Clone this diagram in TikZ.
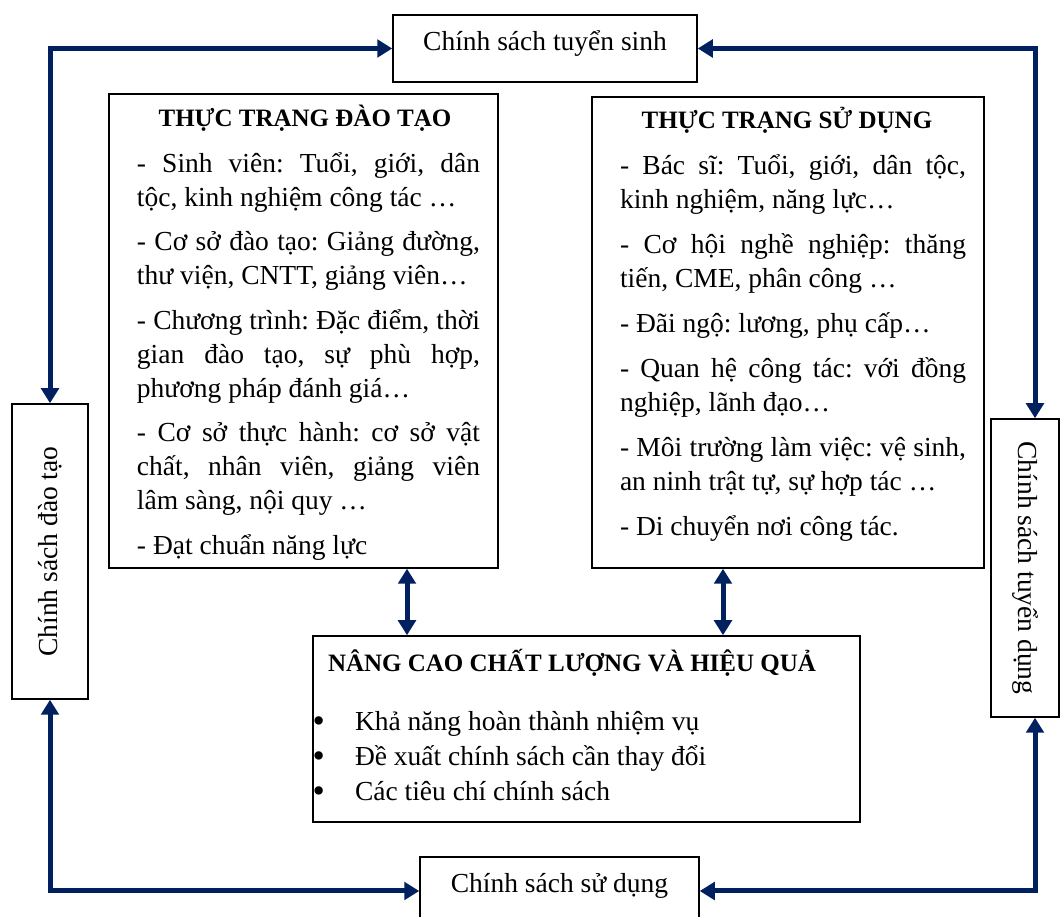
\documentclass[tikz,border=0pt]{standalone}
\usepackage{fontspec}
\setmainfont{Liberation Serif}
\usepackage{graphicx}
\usetikzlibrary{arrows.meta}
\definecolor{navy}{RGB}{0,32,96}
\hyphenpenalty=10000
\exhyphenpenalty=10000
\tolerance=9999
\frenchspacing
\newcommand{\bulletmark}{\makebox[17pt][l]{\raisebox{-0.6pt}{\fontsize{14pt}{13.6pt}\selectfont\textbullet}}}
\tikzset{
  every node/.style={font=\fontsize{11pt}{13.6pt}\selectfont},
  title/.style={font=\fontsize{10pt}{12pt}\selectfont\bfseries},
  box/.style={draw, line width=0.6pt, inner sep=0pt},
  body/.style={anchor=north, inner sep=0pt, align=justify},
  link/.style={navy, line width=2pt,
    {Triangle[length=6pt,width=7pt]}-{Triangle[length=6pt,width=7pt]}},
}
\begin{document}
\begin{tikzpicture}[x=0.4pt,y=-0.4pt]
  \useasboundingbox (0,0) rectangle (1061,917);
  % policy boxes around the frame
  \node[box, minimum width=121.6pt, minimum height=26.8pt, text depth=6.5pt]
    (tsinh) at (545,48.5) {Chính sách tuyển sinh};
  \node[box, minimum width=111.6pt, minimum height=27.2pt, text depth=6.5pt]
    (sdung) at (559.5,891) {Chính sách sử dụng};
  \node[box, minimum width=30.4pt, minimum height=118pt]
    (daotao) at (50,551.5) {\rotatebox{90}{Chính sách đào tạo}};
  \node[box, minimum width=27.2pt, minimum height=119.2pt]
    (tdung) at (1025,568) {\rotatebox{-90}{Chính sách tuyển dụng}};
  % the three inner boxes
  \node[box, minimum width=155.6pt, minimum height=189.6pt] (ttdt) at (303.5,331) {};
  \node[box, minimum width=156.8pt, minimum height=188.4pt] (ttsd) at (788,332.5) {};
  \node[box, minimum width=218.8pt, minimum height=74.4pt] (nangcao) at (586.5,729) {};
  \node[title] (ttdt title) at (305,118) {THỰC TRẠNG ĐÀO TẠO};
  \node[body, text width=137.2pt] (ttdt text) at (308.5,152) {%
    - Sinh viên: Tuổi, giới, dân\linebreak tộc, kinh nghiệm công tác …\\[4.2pt]
    - Cơ sở đào tạo: Giảng đường,\linebreak thư viện, CNTT, giảng viên…\\[4.2pt]
    - Chương trình: Đặc điểm, thời\linebreak gian đào tạo, sự phù hợp,\linebreak
      phương pháp đánh giá…\\[4.2pt]
    - Cơ sở thực hành: cơ sở vật\linebreak chất, nhân viên, giảng viên\linebreak
      lâm sàng, nội quy …\\[4.2pt]
    - Đạt chuẩn năng lực};
  \node[title] (ttsd title) at (787,120) {THỰC TRẠNG SỬ DỤNG};
  \node[body, text width=138.4pt] (ttsd text) at (793,154) {%
    - Bác sĩ: Tuổi, giới, dân tộc,\linebreak kinh nghiệm, năng lực…\\[4.4pt]
    - Cơ hội nghề nghiệp: thăng\linebreak tiến, CME, phân công …\\[4.4pt]
    - Đãi ngộ: lương, phụ cấp…\\[4.4pt]
    - Quan hệ công tác: với đồng\linebreak nghiệp, lãnh đạo…\\[4.4pt]
    - Môi trường làm việc: vệ sinh,\linebreak an ninh trật tự, sự hợp tác …\\[4.4pt]
    - Di chuyển nơi công tác.};
  \node[title] (nangcao title) at (572,663) {NÂNG CAO CHẤT LƯỢNG VÀ HIỆU QUẢ};
  \node[anchor=north west, inner sep=0pt, align=left] (nangcao list) at (312,711) {%
    \bulletmark Khả năng hoàn thành nhiệm vụ\\[0.4pt]
    \bulletmark Đề xuất chính sách cần thay đổi\\[0.4pt]
    \bulletmark Các tiêu chí chính sách};
  % connectors
  \coordinate (lmid) at (407,0);
  \coordinate (rmid) at (723,0);
  \draw[link] (daotao.north) |- (tsinh.west);
  \draw[link] (tsinh.east) -| ([xshift=4pt]tdung.north);
  \draw[link] (daotao.south) |- (sdung.west);
  \draw[link] ([xshift=4pt]tdung.south) |- (sdung.east);
  \draw[link] (ttdt.south -| lmid) -- (nangcao.north -| lmid);
  \draw[link] (ttsd.south -| rmid) -- (nangcao.north -| rmid);
\end{tikzpicture}
\end{document}
